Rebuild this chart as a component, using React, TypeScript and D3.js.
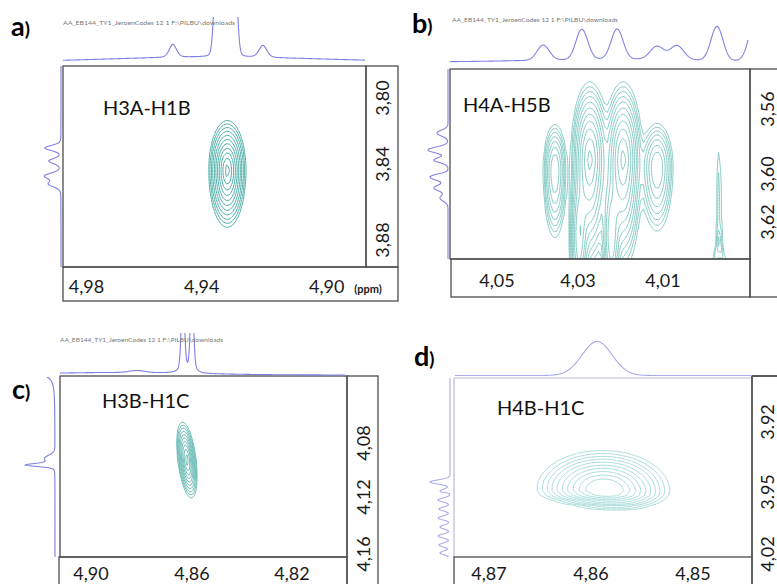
import React from "react";
import * as d3 from "d3";

// [x ppm, y ppm, sigma x, sigma y, amplitude, shear dx/dy]
type Peak2D = [number, number, number, number, number, number];
// [ppm, intensity, width, lorentzian fraction]
type Peak1D = [number, number, number, number];

const panelTags = ["a", "b", "c", "d"];
const crossPeakNames = ["H3A-H1B", "H4A-H5B", "H3B-H1C", "H4B-H1C"];
const acquisitionHeader = "AA_EB144_TY1_JeroenCodes   12   1   F:\\PILBU\\downloads";

// axis ticks (ppm) and their printed labels
const xTicksA = [4.98, 4.94, 4.9];
const xLabelsA = ["4,98", "4,94", "4,90"];
const yTicksA = [3.8, 3.84, 3.88];
const yLabelsA = ["3,80", "3,84", "3,88"];

const xTicksB = [4.05, 4.03, 4.01];
const xLabelsB = ["4,05", "4,03", "4,01"];
const yTicksB = [3.56, 3.6, 3.62];
const yLabelsB = ["3,56", "3,60", "3,62"];

const xTicksC = [4.9, 4.86, 4.82];
const xLabelsC = ["4,90", "4,86", "4,82"];
const yTicksC = [4.08, 4.12, 4.16];
const yLabelsC = ["4,08", "4,12", "4,16"];

const xTicksD = [4.87, 4.86, 4.85];
const xLabelsD = ["4,87", "4,86", "4,85"];
const yTicksD = [3.92, 3.95, 4.02];
const yLabelsD = ["3.92", "3.95", "4,02"];

// cross peaks of each 2D spectrum
const crossPeaksA: Peak2D[] = [[4.9318, 3.8435, 0.0024, 0.0122, 1, 0]];
const crossPeaksB: Peak2D[] = [
  [4.0357, 3.598, 0.0013, 0.013, 0.45, 0],
  [4.0272, 3.5914, 0.0018, 0.019, 1, 0],
  [4.0298, 3.627, 0.001, 0.013, 0.55, 0],
  [4.0194, 3.5914, 0.0018, 0.019, 1, 0],
  [4.0222, 3.627, 0.001, 0.013, 0.55, 0],
  [4.0114, 3.5963, 0.0017, 0.0125, 0.45, 0],
  [3.9968, 3.615, 0.0005, 0.026, 0.075, 0],
  [3.998, 3.636, 0.0004, 0.008, 0.065, 0.136],
  [3.9956, 3.636, 0.0004, 0.008, 0.065, -0.136],
];
const crossPeaksC: Peak2D[] = [[4.862, 4.0926, 0.00147, 0.0115, 1, -0.063]];
const crossPeaksD: Peak2D[] = [
  [4.8589, 3.9485, 0.0026, 0.0066, 1, 0],
  [4.8575, 3.9565, 0.0022, 0.007, 0.3, 0],
];

// contour levels (fraction of the strongest peak)
const levelsA = [0.05, 0.075, 0.11, 0.16, 0.23, 0.32, 0.43, 0.56, 0.7, 0.84, 0.96];
const levelsB = [0.04, 0.06, 0.085, 0.12, 0.17, 0.24, 0.33, 0.45, 0.6, 0.78, 0.95];
const levelsC = [0.05, 0.08, 0.12, 0.18, 0.26, 0.36, 0.48, 0.62, 0.78, 0.93];
const levelsD = [0.05, 0.08, 0.12, 0.17, 0.24, 0.33, 0.44, 0.57, 0.72, 0.88];

// 1D projections (F2 on top, F1 on the left)
const topTraceA: Peak1D[] = [
  [4.937, 5, 0.035, 0],
  [4.95, 13, 0.0013, 0.3],
  [4.9352, 100, 0.0008, 0.15],
  [4.9323, 100, 0.0008, 0.15],
  [4.9295, 100, 0.0008, 0.15],
  [4.9204, 12, 0.0013, 0.3],
];
const leftTraceA: Peak1D[] = [
  [3.8303, 16, 0.0016, 0.2],
  [3.8382, 12, 0.0016, 0.2],
  [3.8463, 16, 0.0016, 0.2],
  [3.8505, 12, 0.0016, 0.2],
];
const topTraceB: Peak1D[] = [
  [4.02, 3, 0.02, 0],
  [4.0386, 15, 0.0015, 0],
  [4.0291, 30, 0.0014, 0],
  [4.0208, 30, 0.0014, 0],
  [4.0114, 13, 0.0016, 0],
  [4.0067, 14, 0.0016, 0],
  [3.9973, 34, 0.0014, 0],
  [3.9879, 50, 0.0016, 0],
];
const leftTraceB: Peak1D[] = [
  [3.5748, 11, 0.0018, 0],
  [3.5852, 20, 0.0018, 0],
  [3.5914, 14, 0.0016, 0],
  [3.6013, 18, 0.0013, 0],
  [3.6058, 14, 0.0013, 0],
  [3.61, 8, 0.0013, 0],
];
const topTraceC: Peak1D[] = [
  [4.89, 2.5, 0.03, 0],
  [4.8818, 2, 0.003, 0],
  [4.8636, 100, 0.0006, 0.5],
  [4.86, 100, 0.0006, 0.5],
];
const leftTraceC: Peak1D[] = [
  [4.0259, 32, 0.003, 1],
  [4.0915, 10, 0.0025, 0],
  [4.0963, 28, 0.0012, 0.3],
];
const topTraceD: Peak1D[] = [[4.8594, 34, 0.00147, 0]];
const leftTraceD: Peak1D[] = [
  [3.9457, 20, 0.0009, 0],
  [3.9496, 10, 0.0009, 0],
  [3.959, 12, 0.0022, 0],
  [3.9692, 11, 0.0022, 0],
  [3.9793, 12, 0.0022, 0],
  [3.9895, 10, 0.0022, 0],
  [3.9997, 12, 0.0022, 0],
  [4.0098, 11, 0.0022, 0],
  [4.0188, 10, 0.0022, 0],
];

type Cfg = {
  id: string;
  tag: string;
  name: string;
  header: boolean;
  unit: boolean;
  xTicks: number[];
  xLabels: string[];
  yTicks: number[];
  yLabels: string[];
  peaks: Peak2D[];
  levels: number[];
  top: Peak1D[];
  left: Peak1D[];
  box: number[];
  rightBox: number[];
  bottomBox: number[];
  xPx: number[];
  yPx: number[];
  tickBase: number;
  rightBase: number;
  tagPos: number[];
  namePos: number[];
  headerPos: number[];
  topSpan: number[];
  topBase: number;
  topClip: number;
  leftBase: number;
  leftSpan: number[];
  cell: number;
  contourColor: string;
  contourWidth: number;
  traceColor: string;
  lightFrame: boolean;
};

const panels: Cfg[] = [
  {
    id: "a", tag: panelTags[0], name: crossPeakNames[0], header: true, unit: true,
    xTicks: xTicksA, xLabels: xLabelsA, yTicks: yTicksA, yLabels: yLabelsA,
    peaks: crossPeaksA, levels: levelsA, top: topTraceA, left: leftTraceA,
    box: [63, 66, 366, 267], rightBox: [366, 66, 398, 267], bottomBox: [63, 267, 398, 301],
    xPx: [86.5, 201.7, 326.7], yPx: [98, 164, 240], tickBase: 293, rightBase: 389,
    tagPos: [11, 36], namePos: [103, 115], headerPos: [63, 25, 172],
    topSpan: [63, 365], topBase: 62, topClip: 17, leftBase: 61, leftSpan: [66, 267],
    cell: 3, contourColor: "#4fb0a8", contourWidth: 1, traceColor: "#7f7fe2", lightFrame: false,
  },
  {
    id: "b", tag: panelTags[1], name: crossPeakNames[1], header: true, unit: false,
    xTicks: xTicksB, xLabels: xLabelsB, yTicks: yTicksB, yLabels: yLabelsB,
    peaks: crossPeaksB, levels: levelsB, top: topTraceB, left: leftTraceB,
    box: [450, 69, 750, 259], rightBox: [750, 69, 790, 297], bottomBox: [451, 259, 750, 297],
    xPx: [497, 578, 663], yPx: [109, 174, 222], tickBase: 287, rightBase: 774,
    tagPos: [412, 33], namePos: [463, 112], headerPos: [452, 22, 166],
    topSpan: [450, 748], topBase: 62, topClip: 15, leftBase: 448, leftSpan: [69, 259],
    cell: 3, contourColor: "#7cc6c0", contourWidth: 0.9, traceColor: "#8282e2", lightFrame: false,
  },
  {
    id: "c", tag: panelTags[2], name: crossPeakNames[2], header: true, unit: false,
    xTicks: xTicksC, xLabels: xLabelsC, yTicks: yTicksC, yLabels: yLabelsC,
    peaks: crossPeaksC, levels: levelsC, top: topTraceC, left: leftTraceC,
    box: [60, 376, 347, 557], rightBox: [347, 376, 378, 590], bottomBox: [59, 557, 347, 590],
    xPx: [91, 192, 292], yPx: [443, 497, 554], tickBase: 580, rightBase: 370,
    tagPos: [12, 399], namePos: [102, 408], headerPos: [60, 342, 163],
    topSpan: [60, 345], topBase: 375, topClip: 333, leftBase: 55, leftSpan: [377, 557],
    cell: 2, contourColor: "#68bab3", contourWidth: 0.9, traceColor: "#7f7fe2", lightFrame: false,
  },
  {
    id: "d", tag: panelTags[3], name: crossPeakNames[3], header: false, unit: false,
    xTicks: xTicksD, xLabels: xLabelsD, yTicks: yTicksD, yLabels: yLabelsD,
    peaks: crossPeaksD, levels: levelsD, top: topTraceD, left: leftTraceD,
    box: [454, 378, 752, 557], rightBox: [752, 376, 790, 590], bottomBox: [454, 557, 752, 590],
    xPx: [489, 591, 693], yPx: [422, 492, 554], tickBase: 580, rightBase: 774,
    tagPos: [414, 366], namePos: [497, 415], headerPos: [0, 0, 0],
    topSpan: [455, 752], topBase: 375.5, topClip: 330, leftBase: 450, leftSpan: [378, 557],
    cell: 5, contourColor: "#abdeda", contourWidth: 1, traceColor: "#a9a9ec", lightFrame: true,
  },
];

const FONT = "Lato, 'Open Sans', sans-serif";

function lineShape(peaks: Peak1D[], ppm: number) {
  return d3.sum(peaks, ([c, h, w, eta]) => {
    const t = (ppm - c) / w;
    return h * (eta / (1 + t * t) + (1 - eta) * Math.exp(-0.5 * t * t));
  });
}

function surface(peaks: Peak2D[], u: number, v: number) {
  return d3.sum(peaks, ([cx, cy, sx, sy, a, shear]) => {
    const dx = (u - (cx + shear * (v - cy))) / sx;
    const dy = (v - cy) / sy;
    return a * Math.exp(-0.5 * (dx * dx + dy * dy));
  });
}

function Panel({ p }: { p: Cfg }) {
  const x = d3.scaleLinear().domain(p.xTicks).range(p.xPx);
  const y = d3.scaleLinear().domain(p.yTicks).range(p.yPx);
  const [bx0, by0, bx1, by1] = p.box;

  // sampled intensity surface, padded so the closing rings fall outside the frame
  const pad = 4;
  const nx = Math.ceil((bx1 - bx0) / p.cell) + 2 * pad;
  const ny = Math.ceil((by1 - by0) / p.cell) + 2 * pad;
  const gx0 = bx0 - pad * p.cell;
  const gy0 = by0 - pad * p.cell;
  const values: number[] = new Array(nx * ny);
  for (let j = 0; j < ny; j++) {
    const v = y.invert(gy0 + (j + 0.5) * p.cell);
    for (let i = 0; i < nx; i++) {
      const u = x.invert(gx0 + (i + 0.5) * p.cell);
      values[j * nx + i] = surface(p.peaks, u, v);
    }
  }
  const contours = d3.contours().size([nx, ny]).thresholds(p.levels)(values);
  const geo = d3.geoPath(d3.geoIdentity().scale(p.cell).translate([gx0, gy0]) as any);

  const topI = d3.scaleLinear().domain([0, 100]).range([p.topBase, p.topBase - 100]);
  const topPts = d3
    .range(p.topSpan[0], p.topSpan[1] + 0.01, 0.5)
    .map((px) => [px, topI(lineShape(p.top, x.invert(px)))] as [number, number]);
  const leftI = d3.scaleLinear().domain([0, 100]).range([p.leftBase, p.leftBase - 100]);
  const leftPts = d3
    .range(p.leftSpan[0], p.leftSpan[1] + 0.01, 0.5)
    .map((py) => [leftI(lineShape(p.left, y.invert(py))), py] as [number, number]);
  const line = d3.line();

  const frame = "#4d4d4d";
  const light = "#b9b9d6";
  const rect = (r: number[], key: string) => (
    <rect key={key} x={r[0]} y={r[1]} width={r[2] - r[0]} height={r[3] - r[1]} fill="none" stroke={frame} strokeWidth={1.3} />
  );

  return (
    <g>
      <defs>
        <clipPath id={`plot-${p.id}`}>
          <rect x={bx0} y={by0} width={bx1 - bx0} height={by1 - by0} />
        </clipPath>
        <clipPath id={`top-${p.id}`}>
          <rect x={p.topSpan[0] - 3} y={p.topClip} width={p.topSpan[1] - p.topSpan[0] + 6} height={by0 - p.topClip} />
        </clipPath>
        <clipPath id={`left-${p.id}`}>
          <rect x={0} y={p.leftSpan[0]} width={p.leftBase + 3} height={p.leftSpan[1] - p.leftSpan[0]} />
        </clipPath>
      </defs>

      {/* contour map */}
      <g clipPath={`url(#plot-${p.id})`} fill="none" stroke={p.contourColor} strokeWidth={p.contourWidth} strokeLinejoin="round">
        {contours.map((c, k) => (
          <path key={k} d={geo(c as any) || ""} />
        ))}
      </g>

      {/* frames */}
      {p.lightFrame ? (
        <g>
          <line x1={bx0} y1={by0} x2={bx1} y2={by0} stroke={light} strokeWidth={1.2} />
          <line x1={bx0} y1={by0} x2={bx0} y2={by1} stroke={light} strokeWidth={1.2} />
          <line x1={bx1} y1={p.rightBox[1]} x2={bx1} y2={by1} stroke={frame} strokeWidth={1.3} />
          <line x1={bx1} y1={p.rightBox[1]} x2={p.rightBox[2]} y2={p.rightBox[1]} stroke={frame} strokeWidth={1.3} />
        </g>
      ) : (
        rect(p.box, "box")
      )}
      {rect(p.rightBox, "right")}
      {rect(p.bottomBox, "bottom")}

      {/* projections */}
      <path d={line(topPts) || ""} clipPath={`url(#top-${p.id})`} fill="none" stroke={p.traceColor} strokeWidth={1.1} />
      <path d={line(leftPts) || ""} clipPath={`url(#left-${p.id})`} fill="none" stroke={p.traceColor} strokeWidth={1.1} />

      {/* ticks */}
      <g fontFamily={FONT} fontSize={18} fill="#1a1a1a" textAnchor="middle">
        {p.xTicks.map((t, k) => (
          <text key={k} x={x(t)} y={p.tickBase}>
            {p.xLabels[k]}
          </text>
        ))}
        {p.yTicks.map((t, k) => (
          <text key={k} transform={`translate(${p.rightBase},${y(t)}) rotate(-90)`}>
            {p.yLabels[k]}
          </text>
        ))}
      </g>
      {p.unit && (
        <text x={368} y={p.tickBase} fontFamily={FONT} fontSize={11} fontWeight={700} textAnchor="middle" fill="#1a1a1a">
          (ppm)
        </text>
      )}

      {/* labels */}
      <text x={p.tagPos[0]} y={p.tagPos[1]} fontFamily={FONT} fontWeight={700} fill="#000">
        <tspan fontSize={27}>{p.tag}</tspan>
        <tspan fontSize={19}>)</tspan>
      </text>
      <text x={p.namePos[0]} y={p.namePos[1]} fontFamily={FONT} fontSize={20} fill="#111">
        {p.name}
      </text>
      {p.header && (
        <text
          x={p.headerPos[0]}
          y={p.headerPos[1]}
          fontFamily={FONT}
          fontSize={5}
          fill="#777"
          textLength={p.headerPos[2]}
          lengthAdjust="spacingAndGlyphs"
        >
          {acquisitionHeader}
        </text>
      )}
    </g>
  );
}

export default function App() {
  return (
    <svg
      width={777}
      height={584}
      viewBox="0 0 777 584"
      style={{ position: "absolute", left: 0, top: 0, background: "#fff" }}
    >
      <rect width={777} height={584} fill="#fff" />
      {panels.map((p) => (
        <Panel key={p.id} p={p} />
      ))}
    </svg>
  );
}
